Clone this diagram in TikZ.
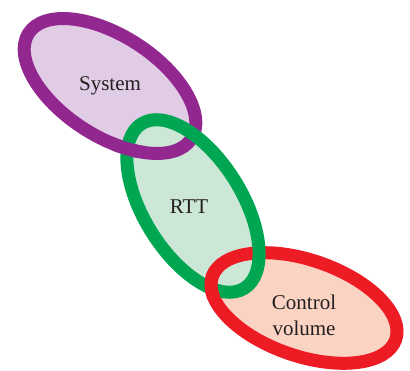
\documentclass[tikz,border=0pt]{standalone}
\usepackage{fontspec}
\setmainfont{Liberation Serif}
\definecolor{sysline}{HTML}{92278F}
\definecolor{sysfill}{HTML}{E0CCE4}
\definecolor{rttline}{HTML}{00A651}
\definecolor{rttfill}{HTML}{CCE7D6}
\definecolor{cvline}{HTML}{ED1C24}
\definecolor{cvfill}{HTML}{FBD3C2}
\definecolor{labeltext}{HTML}{231F20}
\begin{document}
\begin{tikzpicture}[x=1pt, y=-1pt,
    ring/.style={line width=13pt},
    lbl/.style={text=labeltext, align=center, font=\fontsize{21}{26}\selectfont}]

    \useasboundingbox (0,0) rectangle (410,371);

    \coordinate (sys) at (110,86);
    \coordinate (rtt) at (193,206);
    \coordinate (cv)  at (304,308);
    \coordinate (sysover) at (128,144);
    \coordinate (cvover)  at (211,283);

    % fills
    \fill[sysfill, rotate around={-33:(sys)}] (sys) ellipse [x radius=97, y radius=50];
    \fill[cvfill, rotate around={-19:(cv)}] (cv) ellipse [x radius=97, y radius=48];
    \fill[rttfill, rotate around={-58:(rtt)}] (rtt) ellipse [x radius=97, y radius=49];

    % rings
    \draw[ring, sysline, rotate around={-33:(sys)}] (sys) ellipse [x radius=97, y radius=50];
    \draw[ring, cvline, rotate around={-19:(cv)}] (cv) ellipse [x radius=97, y radius=48];
    \draw[ring, rttline, rotate around={-58:(rtt)}] (rtt) ellipse [x radius=97, y radius=49];

    % links passing over the green ring
    \begin{scope}
        \clip (sysover) circle (17);
        \draw[ring, sysline, rotate around={-33:(sys)}] (sys) ellipse [x radius=97, y radius=50];
    \end{scope}
    \begin{scope}
        \clip (cvover) circle (17);
        \draw[ring, cvline, rotate around={-19:(cv)}] (cv) ellipse [x radius=97, y radius=48];
    \end{scope}

    \node[lbl] (syslabel) at (sys) {System};
    \node[lbl] (rttlabel) at (189,207) {RTT};
    \node[lbl] (cvlabel) at (304,315) {Control\\volume};

\end{tikzpicture}
\end{document}
